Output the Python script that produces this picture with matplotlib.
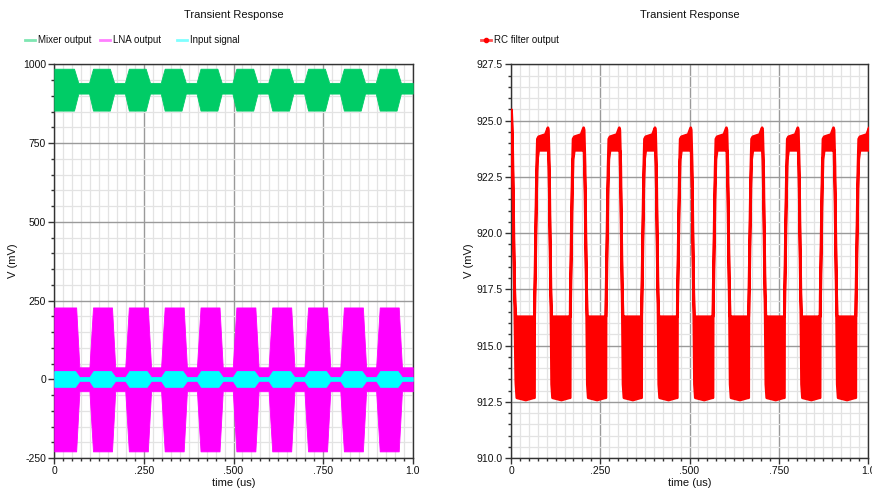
import numpy as np
import matplotlib
matplotlib.use("Agg")
import matplotlib.pyplot as plt
from matplotlib.ticker import MultipleLocator, FixedLocator, FixedFormatter
from matplotlib.lines import Line2D

plt.rcParams['font.family'] = ['Liberation Sans', 'DejaVu Sans']

# ---------------- data ----------------
# start time of each 0.1 us period (us)
period_starts = [0.0, 0.1, 0.2, 0.3, 0.4, 0.5, 0.6, 0.7, 0.8, 0.9]

# Envelope of one burst, times relative to period start (us), values in mV
mixer_t = [-0.003, 0.008, 0.055, 0.067]
mixer_hi = [941, 986, 986, 941]
mixer_lo = [907, 853, 853, 907]

lna_t = [-0.002, 0.008, 0.061, 0.070]
lna_hi = [38, 228, 228, 38]
lna_lo = [-38, -229, -229, -38]

inp_t = [-0.002, 0.009, 0.058, 0.070]
inp_hi = [7, 26, 26, 7]
inp_lo = [-5, -24, -24, -5]

# RC filter output: initial transient (absolute time, us)
rc_init_t = [0.0, 0.002, 0.0045, 0.0065, 0.009, 0.012]
rc_init_hi = [925.5, 924.8, 922.5, 920.0, 917.5, 916.3]
rc_init_lo = [925.0, 924.0, 921.5, 919.0, 916.8, 913.5]

# RC filter output: one period envelope (offset from period start, us)
rc_t = [0.0034, 0.0060, 0.0080, 0.0105, 0.0125, 0.0150, 0.0400, 0.0620,
        0.0644, 0.0648, 0.0665, 0.0685, 0.0705, 0.0726, 0.0760, 0.0950, 0.1020]
rc_hi = [924.6, 923.0, 920.3, 917.4, 916.3, 916.3, 916.3, 916.3,
         916.3, 917.2, 918.8, 921.0, 922.9, 924.2, 924.3, 924.4, 924.7]
rc_lo = [923.7, 921.8, 919.3, 916.6, 913.3, 912.7, 912.6, 912.7,
         912.7, 916.3, 917.8, 920.0, 922.0, 923.3, 923.7, 923.7, 923.7]

left_yticks = [-250, 0, 250, 500, 750, 1000]
right_yticks = [910.0, 912.5, 915.0, 917.5, 920.0, 922.5, 925.0, 927.5]
xticks = [0, 0.25, 0.5, 0.75, 1.0]
xtick_labels = ["0", ".250", ".500", ".750", "1.0"]

left_legend = ["Mixer output", "LNA output", "Input signal"]
right_legend = ["RC filter output"]

title = "Transient Response"
xlabel = "time (us)"
ylabel = "V (mV)"

# ---------------- build envelopes ----------------
def burst_env(t_off, hi, lo):
    T, H, L = [0.0], [hi[1]], [lo[1]]
    for s in period_starts:
        for dt, h, l in zip(t_off, hi, lo):
            t = s + dt
            if t <= 0:
                continue
            T.append(t); H.append(h); L.append(l)
    T.append(1.0); H.append(hi[0]); L.append(lo[0])
    return np.array(T), np.array(H), np.array(L)

def rc_env():
    T, H, L = list(rc_init_t), list(rc_init_hi), list(rc_init_lo)
    for s in period_starts:
        for dt, h, l in zip(rc_t, rc_hi, rc_lo):
            if s == 0 and dt <= rc_init_t[-1]:
                continue
            T.append(s + dt); H.append(h); L.append(l)
    return np.array(T), np.array(H), np.array(L)

# ---------------- figure ----------------
W, H_ = 872, 492
fig = plt.figure(figsize=(W / 100, H_ / 100), dpi=100)

def frac_axes(x0, x1, ytop, ybot):
    return fig.add_axes([x0 / W, (H_ - ybot) / H_, (x1 - x0) / W, (ybot - ytop) / H_])

axL = frac_axes(54.3, 412.7, 64.3, 458)
axR = frac_axes(511, 868, 64.3, 458)

major_grid = "#9a9a9a"
minor_grid = "#e3e3e3"

def style(ax, ylim, yminor, yticks, ylabs, ylab_x):
    ax.set_xlim(0, 1.0)
    ax.set_ylim(*ylim)
    ax.xaxis.set_major_locator(FixedLocator(xticks))
    ax.xaxis.set_major_formatter(FixedFormatter(xtick_labels))
    ax.xaxis.set_minor_locator(MultipleLocator(0.025))
    ax.yaxis.set_major_locator(FixedLocator(yticks))
    ax.yaxis.set_major_formatter(FixedFormatter(ylabs))
    ax.yaxis.set_minor_locator(MultipleLocator(yminor))
    ax.grid(which="minor", color=minor_grid, lw=0.9)
    ax.grid(which="major", color=major_grid, lw=1.0)
    ax.set_axisbelow(True)
    ax.tick_params(which="major", direction="out", length=4, width=1,
                   color="#333333", labelsize=7.5, pad=2, labelcolor="#111111")
    ax.tick_params(which="minor", direction="out", length=2, width=1, color="#333333")
    for sp in ax.spines.values():
        sp.set_color("#333333")
        sp.set_linewidth(1.0)
    ax.set_xlabel(xlabel, fontsize=8, labelpad=1, color="#111111")
    ax.set_ylabel(ylabel, fontsize=8, color="#111111")
    bb = ax.get_position()
    ax.yaxis.set_label_coords((ylab_x / W - bb.x0) / bb.width, 0.5)
    ax.set_title(title, fontsize=8, pad=33, color="#111111")

style(axL, (-250, 1000), 50, left_yticks, [str(v) for v in left_yticks], 18)
style(axR, (910.0, 927.5), 0.5, right_yticks, ["%.1f" % v for v in right_yticks], 474)

mixer_col = "#00cc66"
lna_col = "#ff00ff"
inp_col = "#00ffff"
rc_col = "#ff0000"

t, h, l = burst_env(mixer_t, mixer_hi, mixer_lo)
axL.fill_between(t, l, h, color=mixer_col, lw=0.6, zorder=3)
t, h, l = burst_env(lna_t, lna_hi, lna_lo)
axL.fill_between(t, l, h, color=lna_col, lw=0.6, zorder=3)
t, h, l = burst_env(inp_t, inp_hi, inp_lo)
axL.fill_between(t, l, h, color=inp_col, lw=0.6, zorder=4)

t, h, l = rc_env()
axR.fill_between(t, l, h, facecolor=rc_col, edgecolor=rc_col, lw=2.0, zorder=3)

# legends (drawn manually to match positions)
def legend_item(x_px, label, color, marker=None):
    y = 1 - 40 / H_
    fig.add_artist(Line2D([x_px / W, (x_px + 10) / W], [y, y], color=color, lw=2,
                          transform=fig.transFigure))
    if marker:
        fig.add_artist(Line2D([(x_px + 5) / W], [y], color=marker, marker="o",
                              markersize=3, transform=fig.transFigure))
    fig.text((x_px + 13) / W, y, label, fontsize=7, va="center", ha="left",
             color="#111111")

legend_item(25, left_legend[0], "#7fe6b2")
legend_item(100, left_legend[1], "#ff80ff")
legend_item(177, left_legend[2], "#80ffff")
legend_item(481, right_legend[0], "#ff5050", marker=rc_col)

fig.savefig("out.png", dpi=100, facecolor="white")
